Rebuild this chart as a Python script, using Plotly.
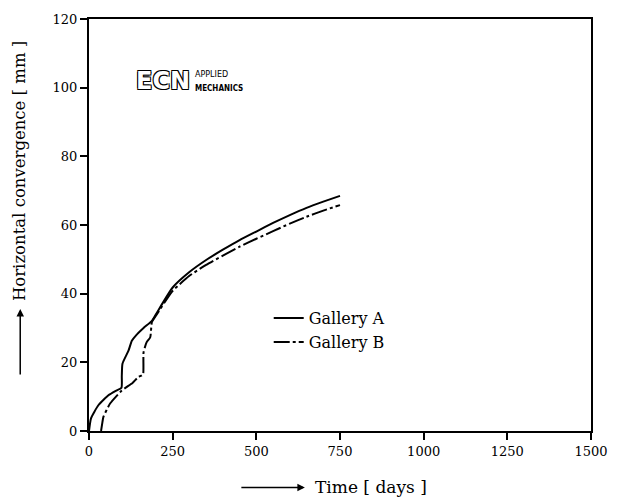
import plotly.graph_objects as go

# Gallery A (solid)
days_a = [0, 6, 28, 58, 80, 97, 98, 100, 118, 128, 140, 163, 188, 200, 250, 300, 350, 400, 450, 500, 550, 600, 650, 700, 750]
conv_a = [0, 3.7, 7.5, 10.4, 11.7, 12.6, 16, 19.6, 23.4, 26.3, 27.8, 30.0, 32.1, 34.0, 41.8, 46.3, 49.8, 52.8, 55.6, 58.1, 60.6, 62.9, 65.0, 66.8, 68.5]

# Gallery B (dash-dot)
days_b = [36, 40, 43, 63, 98, 130, 147, 158, 162, 163, 172, 183, 188, 200, 250, 300, 350, 400, 450, 500, 550, 600, 650, 700, 750]
conv_b = [0, 2.5, 4.1, 8.0, 11.8, 14.0, 15.7, 16.2, 16.7, 22.9, 25.8, 27.3, 31.8, 33.6, 40.8, 45.2, 48.4, 51.1, 53.7, 56.0, 58.2, 60.4, 62.4, 64.2, 65.8]

x_ticks = [0, 250, 500, 750, 1000, 1250, 1500]
y_ticks = [0, 20, 40, 60, 80, 100, 120]

FONT = "DejaVu Serif"

fig = go.Figure()
fig.add_trace(go.Scatter(x=days_a, y=conv_a, mode="lines", name="Gallery A",
                         line=dict(color="black", width=2, shape="spline", smoothing=0.5)))
fig.add_trace(go.Scatter(x=days_b, y=conv_b, mode="lines", name="Gallery B",
                         line=dict(color="black", width=2, dash="16px,3px,3px,3px",
                                   shape="spline", smoothing=0.5)))

axis_common = dict(showline=True, linecolor="black", linewidth=2, mirror=True,
                   ticks="outside", ticklen=7, tickwidth=1.5, tickcolor="black",
                   showgrid=False, zeroline=False,
                   tickfont=dict(family=FONT, size=13, color="black"))

fig.update_xaxes(range=[0, 1500], tickvals=x_ticks, ticktext=[str(v) for v in x_ticks],
                 **axis_common)
fig.update_yaxes(range=[0, 120], tickvals=y_ticks, ticktext=[str(v) for v in y_ticks],
                 **axis_common)

fig.update_layout(
    width=624, height=503,
    margin=dict(l=89, r=33, t=16, b=72),
    paper_bgcolor="white", plot_bgcolor="white",
    font=dict(family=FONT, color="black"),
    showlegend=True,
    legend=dict(x=0.358, y=0.315, xanchor="left", yanchor="top",
                bgcolor="rgba(0,0,0,0)", font=dict(family=FONT, size=16),
                tracegroupgap=0),
)

# axis titles with arrows
fig.add_annotation(xref="paper", yref="paper", x=0.446, y=-0.137,
                   text="Time [ days ]", showarrow=False, xanchor="left", yanchor="middle",
                   font=dict(family=FONT, size=17))
fig.add_annotation(xref="paper", yref="paper", x=0.430, y=-0.137,
                   ax=-65, ay=0, axref="pixel", ayref="pixel",
                   text="", showarrow=True, arrowhead=2, arrowsize=1, arrowwidth=1.5,
                   arrowcolor="black")
fig.add_annotation(xref="paper", yref="paper", x=-0.137, y=0.311,
                   text="Horizontal convergence [ mm ]", showarrow=False, textangle=-90,
                   xanchor="center", yanchor="bottom", font=dict(family=FONT, size=16.5))
fig.add_annotation(xref="paper", yref="paper", x=-0.137, y=0.296,
                   ax=0, ay=67, axref="pixel", ayref="pixel",
                   text="", showarrow=True, arrowhead=2, arrowsize=1, arrowwidth=1.5,
                   arrowcolor="black")

# ECN logo
fig.add_annotation(xref="paper", yref="paper", x=0.09, y=0.85, xanchor="left", yanchor="middle",
                   text="<b>ECN</b>", showarrow=False,
                   font=dict(family="DejaVu Sans", size=24, color="white",
                             shadow="1px 1px 0 black, -1px -1px 0 black, 1px -1px 0 black, -1px 1px 0 black"))
fig.add_annotation(xref="paper", yref="paper", x=0.207, y=0.865, xanchor="left", yanchor="middle",
                   text="APPLIED", showarrow=False,
                   font=dict(family="DejaVu Sans", size=8, color="black"))
fig.add_annotation(xref="paper", yref="paper", x=0.207, y=0.831, xanchor="left", yanchor="middle",
                   text="<b>MECHANICS</b>", showarrow=False,
                   font=dict(family="DejaVu Sans Condensed", size=8, color="black"))

fig.write_html("out.html")
